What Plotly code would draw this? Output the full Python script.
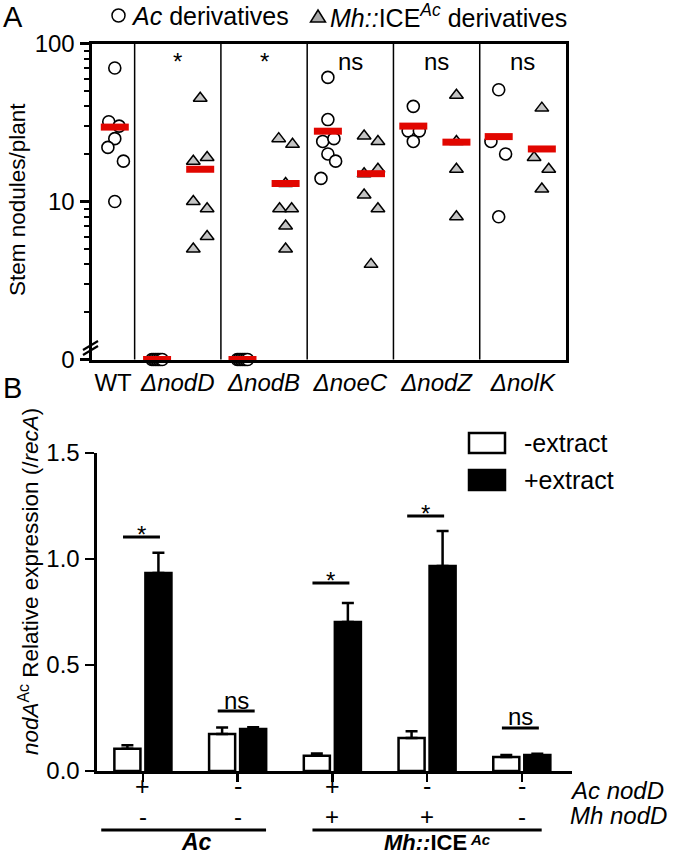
import numpy as np
import plotly.graph_objects as go

W, H = 677, 857
def px(x): return x / W
def py(y): return 1 - y / H

FONT = "Liberation Sans, Arial, sans-serif"

# ---------------- Panel A data ----------------
groups_A = ["WT", "<i>ΔnodD</i>", "<i>ΔnodB</i>", "<i>ΔnoeC</i>", "<i>ΔnodZ</i>", "<i>ΔnolK</i>"]
sig_A = ["", "*", "*", "ns", "ns", "ns"]

# Ac derivatives (circles)
ac_WT = [70, 32, 30, 25, 22, 18, 10]
ac_nodD = [0, 0, 0, 0, 0, 0, 0]
ac_nodB = [0, 0, 0, 0, 0, 0, 0]
ac_noeC = [61, 33, 24, 25, 20, 18, 14]
ac_nodZ = [40, 28, 28, 24]
ac_nolK = [51, 24, 20, 8]
# horizontal scatter of each point within its column
jit_ac_WT = [0.0, -0.07, 0.05, 0.0, -0.08, 0.1, 0.0]
jit_ac_nodD = [-0.06, -0.04, -0.02, 0.0, 0.02, 0.04, 0.06]
jit_ac_nodB = [-0.06, -0.04, -0.02, 0.0, 0.02, 0.04, 0.06]
jit_ac_noeC = [0.0, 0.0, -0.06, 0.07, 0.0, 0.09, -0.08]
jit_ac_nodZ = [0.0, -0.06, 0.07, 0.0]
jit_ac_nolK = [0.0, -0.09, 0.08, 0.0]

# Mh::ICE^Ac derivatives (triangles)
mh_nodD = [45, 18, 19, 10, 9, 6, 5]
mh_nodB = [25, 23, 13, 9, 9, 7, 5]
mh_noeC = [26, 24, 16, 15, 11, 9, 4]
mh_nodZ = [47, 24, 16, 8]
mh_nolK = [39, 19, 16, 12]
jit_mh_nodD = [0.0, -0.08, 0.08, -0.08, 0.08, 0.08, -0.08]
jit_mh_nodB = [-0.08, 0.08, 0.0, -0.07, 0.07, 0.0, 0.0]
jit_mh_noeC = [-0.08, 0.08, 0.08, -0.08, -0.08, 0.08, 0.0]
jit_mh_nodZ = [0.0, 0.0, 0.0, 0.0]
jit_mh_nolK = [0.0, -0.09, 0.08, 0.0]

# ---------------- Panel B data ----------------
strains_B = ["Ac wt", "Ac nodD-", "Mh Ac+Mh+", "Mh Mh+", "Mh none"]
minus_extract = [0.105, 0.175, 0.072, 0.156, 0.066]
minus_err = [0.017, 0.03, 0.01, 0.032, 0.01]
plus_extract = [0.934, 0.198, 0.703, 0.967, 0.075]
plus_err = [0.095, 0.008, 0.09, 0.165, 0.006]
sig_B = ["*", "ns", "*", "*", "ns"]
sig_B_y = [1.104, 0.283, 0.887, 1.203, 0.203]
ac_nodD_row = ["+", "-", "+", "-", "-"]
mh_nodD_row = ["-", "-", "+", "+", "-"]

# ---------------- layout constants ----------------
ZERO_POS = 1  # where value 0 is drawn on the broken log axis
col_center_A = [0.25, 1, 2, 3, 4, 5]
circ_base = [0.27, 0.76, 1.75, 2.74, 3.73, 4.72]
tri_base = [None, 1.26, 2.25, 3.24, 4.23, 5.22]

ac_sets = [ac_WT, ac_nodD, ac_nodB, ac_noeC, ac_nodZ, ac_nolK]
ac_jits = [jit_ac_WT, jit_ac_nodD, jit_ac_nodB, jit_ac_noeC, jit_ac_nodZ, jit_ac_nolK]
mh_sets = [None, mh_nodD, mh_nodB, mh_noeC, mh_nodZ, mh_nolK]
mh_jits = [None, jit_mh_nodD, jit_mh_nodB, jit_mh_noeC, jit_mh_nodZ, jit_mh_nolK]

def ypos(v):
    return v if v > 0 else ZERO_POS

fig = go.Figure()

cx, cy, tx, ty, mx, my = [], [], [], [], [], []
for i in range(6):
    for v, j in zip(ac_sets[i], ac_jits[i]):
        cx.append(circ_base[i] + j); cy.append(ypos(v))
    mx.append(circ_base[i]); my.append(ypos(float(np.mean(ac_sets[i]))))
    if mh_sets[i] is not None:
        for v, j in zip(mh_sets[i], mh_jits[i]):
            tx.append(tri_base[i] + j); ty.append(ypos(v))
        mx.append(tri_base[i]); my.append(ypos(float(np.mean(mh_sets[i]))))

fig.add_trace(go.Scatter(x=cx, y=cy, mode="markers", xaxis="x", yaxis="y",
                         marker=dict(symbol="circle", size=12, color="white",
                                     line=dict(color="black", width=1.6)),
                         cliponaxis=False, showlegend=False, hoverinfo="skip"))
fig.add_trace(go.Scatter(x=tx, y=ty, mode="markers", xaxis="x", yaxis="y",
                         marker=dict(symbol="triangle-up", size=12, color="#c4c4c4",
                                     line=dict(color="black", width=1.5)),
                         cliponaxis=False, showlegend=False, hoverinfo="skip"))
fig.add_trace(go.Scatter(x=mx, y=my, mode="markers", xaxis="x", yaxis="y",
                         marker=dict(symbol="line-ew", size=20,
                                     line=dict(color="#e10600", width=7)),
                         cliponaxis=False, showlegend=False, hoverinfo="skip"))

# ---------------- Panel B bars ----------------
xb = list(range(len(strains_B)))
fig.add_trace(go.Bar(x=xb, y=minus_extract, xaxis="x2", yaxis="y2", name="-extract",
                     marker=dict(color="white", line=dict(color="black", width=2.5)),
                     error_y=dict(type="data", symmetric=False, array=minus_err,
                                  arrayminus=[0] * 5, color="black", thickness=2.5, width=6),
                     showlegend=False, hoverinfo="skip"))
fig.add_trace(go.Bar(x=xb, y=plus_extract, xaxis="x2", yaxis="y2", name="+extract",
                     marker=dict(color="black", line=dict(color="black", width=2.5)),
                     error_y=dict(type="data", symmetric=False, array=plus_err,
                                  arrayminus=[0] * 5, color="black", thickness=2.5, width=6),
                     showlegend=False, hoverinfo="skip"))

shapes = []
annotations = []

# dividers panel A
for k in range(5):
    shapes.append(dict(type="line", xref="x", yref="paper", x0=k + 0.5, x1=k + 0.5,
                       y0=py(359.5), y1=py(43.5), line=dict(color="black", width=1.5)))
# axis break slashes
for dy in (0, 5):
    shapes.append(dict(type="line", xref="paper", yref="paper", x0=px(83), x1=px(98),
                       y0=py(350 + dy), y1=py(341 + dy), line=dict(color="black", width=2.2)))

# significance A
for i, s in enumerate(sig_A):
    if s:
        annotations.append(dict(text=s, x=col_center_A[i], xref="x", y=py(61), yref="paper",
                                showarrow=False, xanchor="center", yanchor="middle",
                                font=dict(size=24, color="black", family=FONT)))

# legend A
shapes.append(dict(type="circle", xref="paper", yref="paper", x0=px(112), x1=px(125),
                   y0=py(22), y1=py(9), line=dict(color="black", width=1.5), fillcolor="white"))
annotations.append(dict(text="<i>Ac</i> derivatives", x=px(129), y=py(16), xref="paper", yref="paper",
                        xanchor="left", yanchor="middle", showarrow=False,
                        font=dict(size=25, color="black", family=FONT)))
shapes.append(dict(type="path", xref="paper", yref="paper",
                   path=f"M {px(310.5)},{py(22)} L {px(325.5)},{py(22)} L {px(318)},{py(10)} Z",
                   fillcolor="#a9a9a9", line=dict(color="black", width=1.5)))
annotations.append(dict(text="<i>Mh::</i>ICE<sup><i>Ac</i></sup> derivatives", x=px(328), y=py(16),
                        xref="paper", yref="paper", xanchor="left", yanchor="middle", showarrow=False,
                        font=dict(size=25, color="black", family=FONT)))

# panel letters
annotations.append(dict(text="A", x=px(1), y=py(17), xref="paper", yref="paper", xanchor="left",
                        yanchor="middle", showarrow=False, font=dict(size=29, color="black", family=FONT)))
annotations.append(dict(text="B", x=px(1), y=py(388), xref="paper", yref="paper", xanchor="left",
                        yanchor="middle", showarrow=False, font=dict(size=29, color="black", family=FONT)))

# y titles
annotations.append(dict(text="Stem nodules/plant", x=px(17), y=py(200), xref="paper", yref="paper",
                        textangle=-90, xanchor="center", yanchor="middle", showarrow=False,
                        font=dict(size=22.5, color="black", family=FONT)))
annotations.append(dict(text="<i>nodA</i><sup>Ac</sup> Relative expression (/<i>recA</i>)",
                        x=px(29), y=py(582), xref="paper", yref="paper",
                        textangle=-90, xanchor="center", yanchor="middle", showarrow=False,
                        font=dict(size=22.5, color="black", family=FONT)))

# legend B
shapes.append(dict(type="rect", xref="paper", yref="paper", x0=px(469), x1=px(505), y0=py(453), y1=py(433),
                   fillcolor="white", line=dict(color="black", width=2.5)))
shapes.append(dict(type="rect", xref="paper", yref="paper", x0=px(469), x1=px(505), y0=py(490), y1=py(470),
                   fillcolor="black", line=dict(color="black", width=2.5)))
annotations.append(dict(text="-extract", x=px(522), y=py(443), xref="paper", yref="paper", xanchor="left",
                        yanchor="middle", showarrow=False, font=dict(size=25, color="black", family=FONT)))
annotations.append(dict(text="+extract", x=px(522), y=py(480), xref="paper", yref="paper", xanchor="left",
                        yanchor="middle", showarrow=False, font=dict(size=25, color="black", family=FONT)))

# significance B
for i, (s, yv) in enumerate(zip(sig_B, sig_B_y)):
    shapes.append(dict(type="line", xref="x2", yref="y2", x0=i - 0.21, x1=i + 0.18, y0=yv, y1=yv,
                       line=dict(color="black", width=3)))
    annotations.append(dict(text=s, x=i - 0.015, xref="x2", y=yv, yref="y2", showarrow=False,
                            xanchor="center", yanchor="middle", yshift=(2 if s == "*" else 11),
                            font=dict(size=24, color="black", family=FONT)))

# genotype rows under panel B
for i in range(5):
    annotations.append(dict(text=ac_nodD_row[i], x=i, xref="x2", y=py(802), yref="paper", showarrow=False,
                            xanchor="center", yanchor="bottom", font=dict(size=25, color="black", family=FONT)))
    annotations.append(dict(text=mh_nodD_row[i], x=i, xref="x2", y=py(801), yref="paper", showarrow=False,
                            xanchor="center", yanchor="top", font=dict(size=24, color="black", family=FONT)))
annotations.append(dict(text="<i>Ac nodD</i>", x=px(568), y=py(790), xref="paper", yref="paper", xanchor="left",
                        yanchor="middle", showarrow=False, font=dict(size=24, color="black", family=FONT)))
annotations.append(dict(text="<i>Mh nodD</i>", x=px(568), y=py(815), xref="paper", yref="paper", xanchor="left",
                        yanchor="middle", showarrow=False, font=dict(size=24, color="black", family=FONT)))
shapes.append(dict(type="line", xref="x2", yref="paper", x0=-0.44, x1=1.3, y0=py(830), y1=py(830),
                   line=dict(color="black", width=3)))
shapes.append(dict(type="line", xref="x2", yref="paper", x0=1.79, x1=4.21, y0=py(830), y1=py(830),
                   line=dict(color="black", width=3)))
annotations.append(dict(text="<b><i>Ac</i></b>", x=0.57, xref="x2", y=py(857), yref="paper", showarrow=False,
                        xanchor="center", yanchor="bottom", font=dict(size=23, color="black", family=FONT)))
annotations.append(dict(text="<b><i>Mh::</i>ICE</b>", x=px(469), xref="paper", y=py(857),
                        yref="paper", showarrow=False, xanchor="right", yanchor="bottom",
                        font=dict(size=22, color="black", family=FONT)))
annotations.append(dict(text="<b><i>Ac</i></b>", x=px(468), xref="paper", y=py(839),
                        yref="paper", showarrow=False, xanchor="left", yanchor="middle",
                        font=dict(size=15, color="black", family=FONT)))

minor_vals = [2, 3, 4, 5, 6, 7, 8, 9, 20, 30, 40, 50, 60, 70, 80, 90]

fig.update_layout(
    width=W, height=H, margin=dict(l=0, r=0, t=0, b=0),
    template="none", paper_bgcolor="white", plot_bgcolor="white",
    font=dict(family=FONT, color="black", size=24),
    showlegend=False, barmode="group", bargap=0.345, bargroupgap=0.16,
    shapes=shapes, annotations=annotations, hovermode=False,
    xaxis=dict(domain=[px(91.5), px(566)], range=[0, 5.5], anchor="y",
               tickvals=col_center_A, ticktext=groups_A, ticks="", showgrid=False, zeroline=False,
               showline=True, linewidth=3, linecolor="black", mirror=True,
               tickfont=dict(size=24), automargin=False),
    yaxis=dict(domain=[py(359.5), py(43.5)], type="log", range=[0, 2], anchor="x",
               tickvals=[1, 10, 100], ticktext=["0", "10", "100"], ticks="outside", ticklen=9,
               tickwidth=2.5, tickcolor="black", showgrid=False, zeroline=False,
               showline=True, linewidth=3, linecolor="black", mirror=True,
               minor=dict(tickvals=minor_vals, ticks="outside", ticklen=5, tickwidth=2, tickcolor="black",
                          showgrid=False),
               tickfont=dict(size=24), automargin=False),
    xaxis2=dict(domain=[px(96.5), px(572)], range=[-0.49, 4.53], anchor="y2",
                tickvals=xb, showticklabels=False, ticks="outside", ticklen=8, tickwidth=2.5,
                tickcolor="black", showgrid=False, zeroline=False, showline=True, linewidth=3,
                linecolor="black", automargin=False),
    yaxis2=dict(domain=[py(771), py(453)], range=[0, 1.5], anchor="x2",
                tickvals=[0, 0.5, 1.0, 1.5], ticktext=["0.0", "0.5", "1.0", "1.5"],
                ticks="outside", ticklen=9, tickwidth=2.5, tickcolor="black", showgrid=False,
                zeroline=False, showline=True, linewidth=3, linecolor="black",
                tickfont=dict(size=24), automargin=False),
)

fig.write_html("out.html", config={"displayModeBar": False, "staticPlot": True},
               post_script="document.body.style.margin='0px';")
